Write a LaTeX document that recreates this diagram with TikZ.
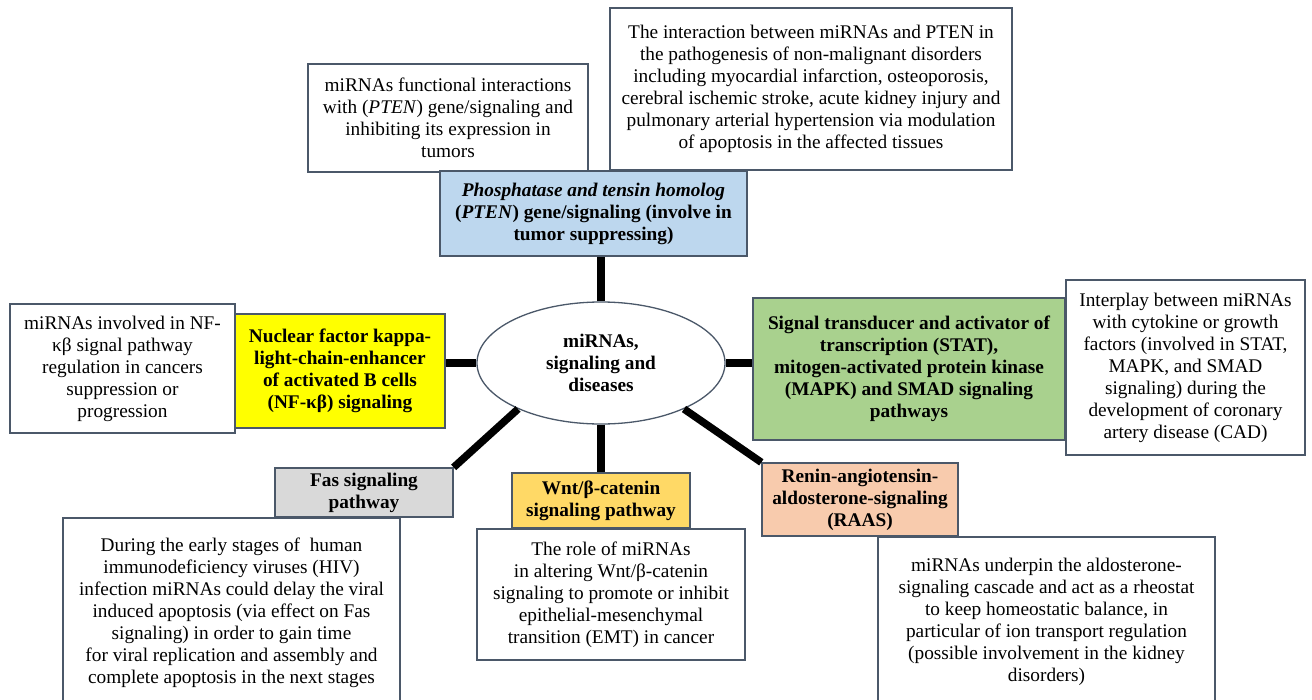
\documentclass[tikz,border=0pt]{standalone}
\usepackage{fontspec}
\setmainfont{Liberation Serif}
\usetikzlibrary{shapes.geometric}
\definecolor{bord}{RGB}{75,88,105}
\definecolor{ptenblue}{RGB}{189,215,238}
\definecolor{nfyellow}{RGB}{255,255,0}
\definecolor{statgreen}{RGB}{169,209,142}
\definecolor{fasgray}{RGB}{217,217,217}
\definecolor{wntorange}{RGB}{255,217,102}
\definecolor{raspeach}{RGB}{248,203,173}
\begin{document}
\begin{tikzpicture}[x=1pt,y=-1pt,
  every node/.style={font=\fontsize{19.3}{22}\selectfont, align=center, inner sep=0pt},
  txtbox/.style={draw=bord, line width=1.3pt, fill=white, rectangle},
  headbox/.style={draw=bord, line width=1.3pt, rectangle, font=\fontsize{19.3}{22}\selectfont\bfseries},
  link/.style={line width=7.5pt, draw=black}
]
\useasboundingbox (0,0) rectangle (1312,699);
\fill[white] (0,0) rectangle (1312,699);

% text boxes
\node[txtbox, minimum width=280pt, minimum height=108pt] (ptenL) at (448,118)
  {miRNAs functional interactions\\with (\textit{PTEN}) gene/signaling and\\inhibiting its expression in\\tumors};
\node[txtbox, minimum width=402pt, minimum height=162pt] (ptenR) at (811,89)
  {The interaction between miRNAs and PTEN in\\the pathogenesis of non-malignant disorders\\including myocardial infarction, osteoporosis,\\cerebral ischemic stroke, acute kidney injury and\\pulmonary arterial hypertension via modulation\\of apoptosis in the affected tissues};
\node[txtbox, minimum width=225pt, minimum height=129pt] (nfL) at (122.5,368.5)
  {miRNAs involved in NF-\\κβ signal pathway\\regulation in cancers\\suppression or\\progression};
\node[txtbox, minimum width=239pt, minimum height=175pt] (statR) at (1185.5,367.5)
  {Interplay between miRNAs\\with cytokine or growth\\factors (involved in STAT,\\MAPK, and SMAD\\signaling) during the\\development of coronary\\artery disease (CAD)};
\node[txtbox, minimum width=337pt, minimum height=190pt] (fasT) at (231.5,613)
  {During the early stages of \ human\\immunodeficiency viruses (HIV)\\infection miRNAs could delay the viral\\induced apoptosis (via effect on Fas\\signaling) in order to gain time\\for viral replication and assembly and\\complete apoptosis in the next stages};
\node[txtbox, minimum width=268pt, minimum height=131pt] (wntT) at (611,594.5)
  {The role of miRNAs\\in altering Wnt/β-catenin\\signaling to promote or inhibit\\epithelial-mesenchymal\\transition (EMT) in cancer};
\node[txtbox, minimum width=337pt, minimum height=170pt] (rasT) at (1046.5,622)
  {miRNAs underpin the aldosterone-\\signaling cascade and act as a rheostat\\to keep homeostatic balance, in\\particular of ion transport regulation\\(possible involvement in the kidney\\disorders)};

% heading boxes
\node[headbox, fill=ptenblue, minimum width=307pt, minimum height=85pt] (pten) at (593.5,213.5)
  {\textit{Phosphatase and tensin homolog}\\(\textit{PTEN}) gene/signaling (involve in\\tumor suppressing)};
\node[headbox, fill=nfyellow, minimum width=210pt, minimum height=114pt] (nf) at (340,371)
  {Nuclear factor kappa-\\light-chain-enhancer\\of activated B cells\\(NF-κβ) signaling};
\node[headbox, fill=statgreen, minimum width=312pt, minimum height=142pt] (stat) at (909,369)
  {Signal transducer and activator of\\transcription (STAT),\\mitogen-activated protein kinase\\(MAPK) and SMAD signaling\\pathways};
\node[headbox, fill=fasgray, minimum width=178pt, minimum height=49pt] (fas) at (364,492.5)
  {Fas signaling\\pathway};
\node[headbox, fill=wntorange, minimum width=178pt, minimum height=55pt] (wnt) at (601,500.5)
  {Wnt/β-catenin\\signaling pathway};
\node[headbox, fill=raspeach, minimum width=196pt, minimum height=73pt] (ras) at (860,499.5)
  {Renin-angiotensin-\\aldosterone-signaling\\(RAAS)};

% centre
\node[ellipse, draw=bord, line width=1.3pt, fill=white, minimum width=248pt, minimum height=122pt,
  font=\fontsize{19.3}{22}\selectfont\bfseries] (ell) at (601,363)
  {miRNAs,\\signaling and\\diseases};

% connectors
\draw[link] (ell.north) -- (ell.north |- pten.south);
\draw[link] (ell.west) -- (ell.west -| nf.east);
\draw[link] (ell.east) -- (ell.east -| stat.west);
\draw[link] (ell.south) -- (ell.south |- wnt.north);
\draw[link] (ell.209) -- (fas.north east);
\draw[link] (ell.331) -- (ras.north west);
\end{tikzpicture}
\end{document}
